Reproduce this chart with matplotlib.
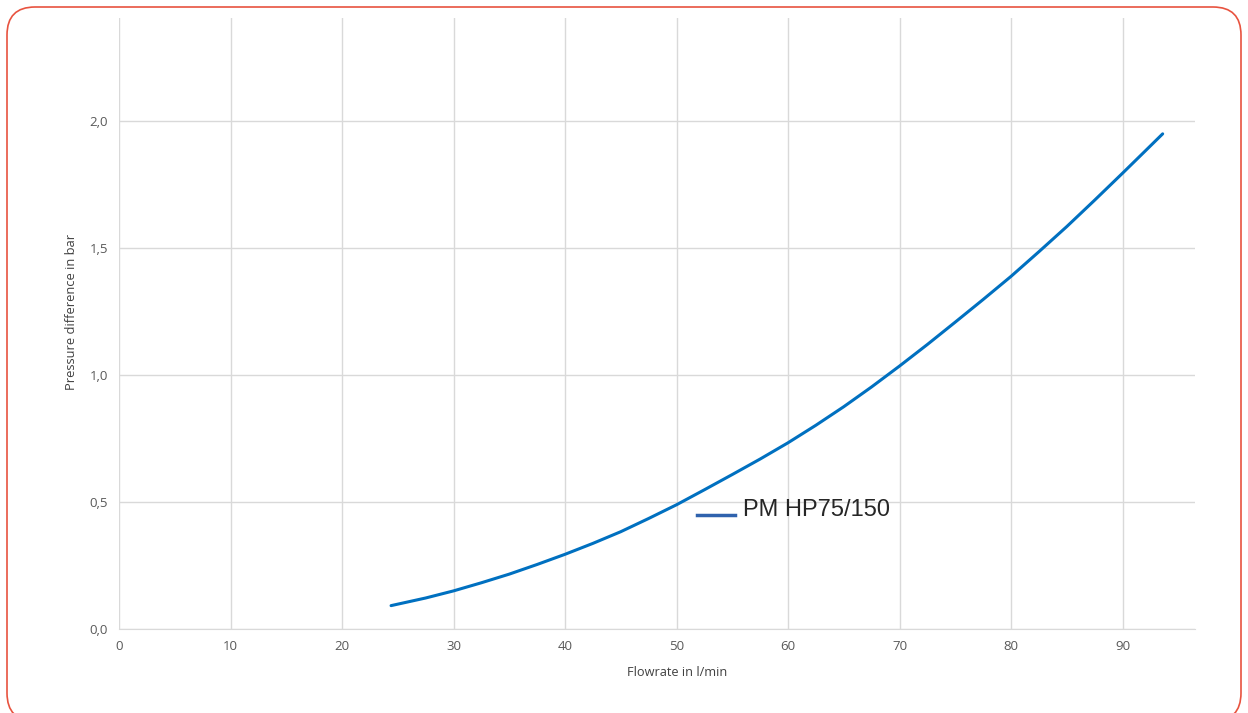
import numpy as np
import matplotlib
matplotlib.use('Agg')
import matplotlib.pyplot as plt
from matplotlib.patches import FancyBboxPatch
from matplotlib.transforms import IdentityTransform

# Données
flow = [24.4, 27.5, 30, 32.5, 35, 37.5, 40, 42.5, 45, 47.5, 50, 52.5, 55, 57.5, 60,
        62.5, 65, 67.5, 70, 72.5, 75, 77.5, 80, 82.5, 85, 87.5, 90, 92, 93.6]
dp = [0.092, 0.122, 0.150, 0.182, 0.216, 0.254, 0.294, 0.337, 0.383, 0.435, 0.489,
      0.548, 0.608, 0.669, 0.733, 0.802, 0.875, 0.953, 1.035, 1.12, 1.208, 1.297,
      1.388, 1.485, 1.584, 1.688, 1.794, 1.88, 1.949]
series_name = "PM HP75/150"
x_ticks = [0, 10, 20, 30, 40, 50, 60, 70, 80, 90]
y_ticks = [0.0, 0.5, 1.0, 1.5, 2.0]

W, H = 1248, 713
fig = plt.figure(figsize=(W / 100, H / 100), dpi=100)
ax = fig.add_axes([119 / W, 1 - 629 / H, (1195 - 119) / W, (629 - 18) / H])

ax.plot(flow, dp, color='#0070c0', linewidth=2.2, solid_capstyle='round', solid_joinstyle='round')
ax.set_xlim(0, 96.5)
ax.set_ylim(0, 2.405)
ax.set_xticks(x_ticks)
ax.set_yticks(y_ticks)
ax.set_yticklabels([f"{v:.1f}".replace('.', ',') for v in y_ticks])
ax.grid(True, color='#d9d9d9', linewidth=1)
ax.set_axisbelow(True)
for s in ['top', 'right', 'left']:
    ax.spines[s].set_visible(False)
ax.spines['bottom'].set_color('#d9d9d9')
ax.tick_params(length=0, labelsize=9.5, colors='#595959', pad=8)
for lab in ax.get_xticklabels() + ax.get_yticklabels():
    lab.set_fontfamily('Open Sans')

# Titres des axes (légèrement décalés comme dans l'original)
ax.text(0.5186, -0.072, "Flowrate in l/min", transform=ax.transAxes, fontsize=9.2,
        color='#404040', family='Open Sans', ha='center', va='center')
ax.text(-0.0441, 0.519, "Pressure difference in bar", transform=ax.transAxes, fontsize=9.3,
        color='#404040', family='Open Sans', ha='center', va='center', rotation=90)

# Légende à l'intérieur du tracé
fig.lines.append(plt.Line2D([697 / W, 735 / W], [1 - 515 / H] * 2, color='#2f62ad',
                            linewidth=2.5, transform=fig.transFigure))
fig.text(743 / W, 1 - 510 / H, series_name, fontsize=17, family='Liberation Sans',
         color='#262626', va='center', ha='left')

# Cadre arrondi rouge (coordonnées en pixels)
frame = FancyBboxPatch((7, -8), 1241 - 7, 713 - 7 + 8,
                       boxstyle="round,pad=0,rounding_size=28", transform=IdentityTransform(),
                       fill=False, edgecolor='#e8533f', linewidth=1.2)
fig.patches.append(frame)

fig.savefig("out.png", dpi=100)
plt.close()
